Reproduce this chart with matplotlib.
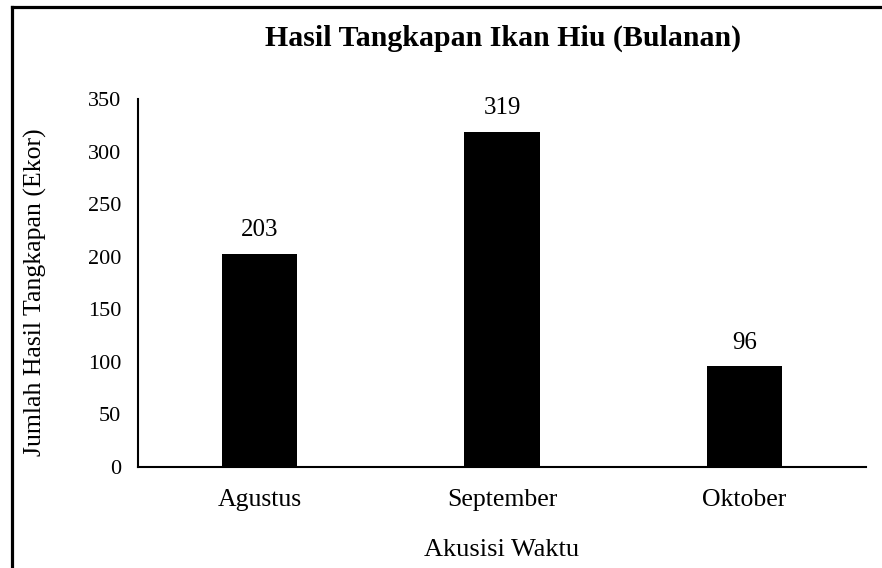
import matplotlib
matplotlib.use("Agg")
import matplotlib.pyplot as plt
from matplotlib.lines import Line2D

# Data
bulan = ["Agustus", "September", "Oktober"]
jumlah = [203, 319, 96]
yticks = [0, 50, 100, 150, 200, 250, 300, 350]

plt.rcParams["font.family"] = ["Liberation Serif", "DejaVu Serif"]

W, H = 882, 568
fig = plt.figure(figsize=(W / 100, H / 100), dpi=100)
ax = fig.add_axes([138 / W, 1 - 467 / H, 728 / W, 368 / H])

x = list(range(len(bulan)))
ax.bar(x, jumlah, width=0.31, color="black")
for xi, v in zip(x, jumlah):
    ax.annotate(str(v), (xi, v), xytext=(0, 9), textcoords="offset points",
                ha="center", va="bottom", fontsize=18)

ax.set_xlim(-0.5, len(bulan) - 0.5)
ax.set_ylim(0, 350)
ax.set_yticks(yticks)
ax.set_xticks(x)
ax.set_xticklabels(bulan, fontsize=18.5)
ax.tick_params(axis="y", labelsize=16, length=0, pad=12)
ax.tick_params(axis="x", length=0, pad=16)
for s in ["top", "right"]:
    ax.spines[s].set_visible(False)
ax.spines["left"].set_linewidth(1.5)
ax.spines["bottom"].set_linewidth(1.5)

ax.set_xlabel("Akusisi Waktu", fontsize=19, labelpad=20)
ax.set_ylabel("Jumlah Hasil Tangkapan (Ekor)", fontsize=18.5)
ax.yaxis.set_label_coords(-0.125, 0.475)
fig.text(503 / W, 1 - 38 / H, "Hasil Tangkapan Ikan Hiu (Bulanan)", ha="center",
         va="center", fontsize=21.5, fontweight="bold")

# frame lines on top and left edge of the picture
fig.add_artist(Line2D([11.5 / W, 1], [1 - 7 / H, 1 - 7 / H], transform=fig.transFigure,
                      color="black", linewidth=2.3))
fig.add_artist(Line2D([11.5 / W, 11.5 / W], [0, 1 - 7 / H], transform=fig.transFigure,
                      color="black", linewidth=2.3))

plt.savefig("out.png", dpi=100)
